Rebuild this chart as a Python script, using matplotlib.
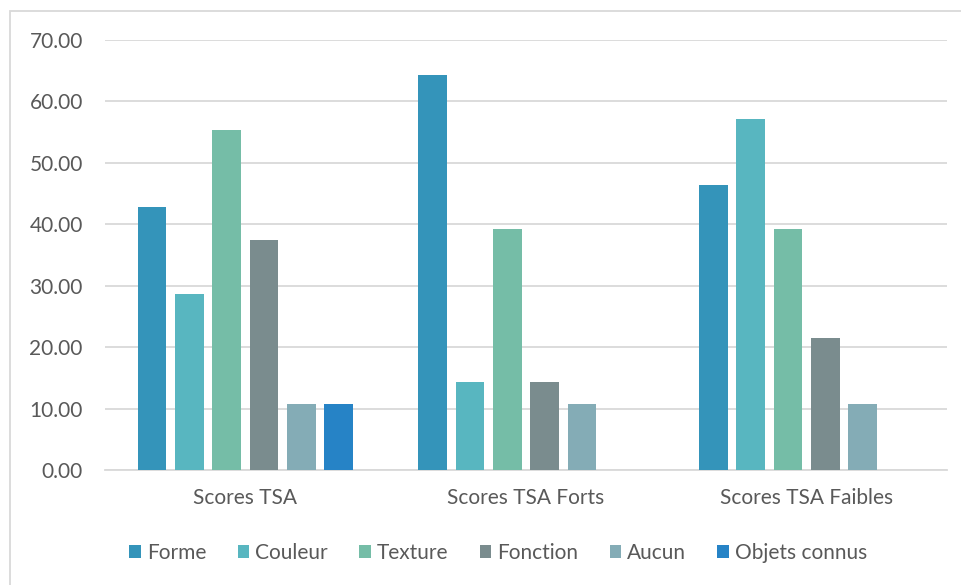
import numpy as np
import matplotlib.pyplot as plt
from matplotlib.patches import Rectangle

groups = ["Scores TSA", "Scores TSA Forts", "Scores TSA Faibles"]
series = ["Forme", "Couleur", "Texture", "Fonction", "Aucun", "Objets connus"]
forme = [42.86, 64.29, 46.43]
couleur = [28.57, 14.29, 57.14]
texture = [55.36, 39.29, 39.29]
fonction = [37.50, 14.29, 21.43]
aucun = [10.71, 10.71, 10.71]
objets_connus = [10.71, 0.0, 0.0]
colors = ["#3494BA", "#58B6C0", "#75BDA7", "#7A8C8E", "#84ACB6", "#2683C6"]

plt.rcParams['font.family'] = ['Lato', 'DejaVu Sans']
text_color = "#595959"
fs = 15

fig = plt.figure(figsize=(9.62, 5.85), dpi=100)
# chart frame
fig.patches.append(Rectangle((10 / 962, -0.01), 1.0, 1 - 11 / 585 + 0.01,
                             transform=fig.transFigure, fill=False,
                             edgecolor="#D9D9D9", linewidth=1.3))

ax = fig.add_axes([105 / 962, 1 - 470 / 585, (947 - 105) / 962, 430 / 585])

x = np.arange(len(groups))
step = 0.133
width = 0.103
data = [forme, couleur, texture, fonction, aucun, objets_connus]
for i, (name, vals) in enumerate(zip(series, data)):
    ax.bar(x + (i - 2.5) * step, vals, width, color=colors[i], label=name, zorder=3)

ax.set_xlim(-0.5, 2.5)
ax.set_ylim(0, 70)
ax.set_yticks(np.arange(0, 71, 10))
ax.set_yticklabels([f"{v:.2f}" for v in np.arange(0, 71, 10)])
ax.set_xticks(x)
ax.set_xticklabels(groups)
ax.tick_params(axis="both", length=0, labelsize=fs, colors=text_color)
ax.tick_params(axis="y", pad=16)
ax.tick_params(axis="x", pad=13)
ax.grid(axis="y", color="#D9D9D9", linewidth=1.3, zorder=0)
for s in ["top", "right", "left"]:
    ax.spines[s].set_visible(False)
ax.spines["bottom"].set_color("#D9D9D9")
ax.spines["bottom"].set_linewidth(1.3)

fig.legend(loc="center", bbox_to_anchor=(0.518, 1 - 553 / 585), ncol=6, frameon=False,
           fontsize=fs, labelcolor=text_color, handlelength=0.55, handleheight=0.55,
           handletextpad=0.3, columnspacing=1.5)

fig.savefig("out.png", dpi=100)
